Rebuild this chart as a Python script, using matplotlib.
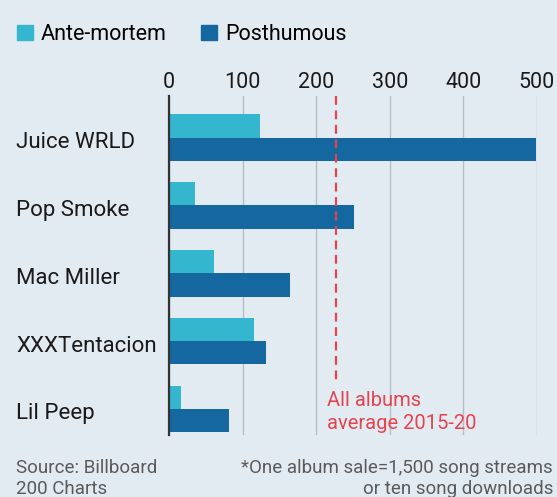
import matplotlib
matplotlib.use("Agg")
import matplotlib.pyplot as plt
from matplotlib.patches import Patch
from matplotlib.transforms import blended_transform_factory

# values (album-equivalent sales, '000)
artists = ["Juice WRLD", "Pop Smoke", "Mac Miller", "XXXTentacion", "Lil Peep"]
ante_mortem = [123, 35, 61, 115, 16]
posthumous = [498, 251, 164, 132, 81]
avg_all_albums = 227
xticks = [0, 100, 200, 300, 400, 500]

BG = "#e3ebf2"
ANTE = "#34b6cf"
POST = "#15679f"
RED = "#e5444f"

plt.rcParams["font.family"] = ["Roboto", "DejaVu Sans"]

W, H = 557, 497
fig = plt.figure(figsize=(W / 100, H / 100), dpi=100, facecolor=BG)
ax = fig.add_axes([169 / W, 1 - 435 / H, (537 - 169) / W, (435 - 96) / H])
ax.set_facecolor(BG)

h = 0.345
ypos = list(range(len(artists)))
ax.barh([y - h / 2 for y in ypos], ante_mortem, height=h, color=ANTE, zorder=3)
ax.barh([y + h / 2 for y in ypos], posthumous, height=h, color=POST, zorder=3)

ax.set_xlim(0, 500)
ax.set_ylim(4.385, -0.615)

ax.xaxis.tick_top()
ax.set_xticks(xticks)
ax.set_xticklabels([str(t) for t in xticks], fontsize=15.5, color="#1a1a1a")
ax.tick_params(axis="x", length=0, pad=2)
ax.set_yticks([])
ax.grid(axis="x", color="#b5bec7", linewidth=1, zorder=0)

for s in ["top", "right", "bottom"]:
    ax.spines[s].set_visible(False)
ax.spines["left"].set_color("#333333")
ax.spines["left"].set_linewidth(1.6)
ax.spines["left"].set_zorder(4)

# dashed average line, stops above the label
ax.plot([avg_all_albums, avg_all_albums], [-0.615, 3.57], color=RED,
        linestyle=(0, (4, 2.5)), linewidth=1.6, zorder=4, clip_on=False)
ax.text(avg_all_albums - 12, 3.74, "All albums\naverage 2015-20", color=RED,
        fontsize=14.5, ha="left", va="top", linespacing=1.25)

# artist labels
label_tr = blended_transform_factory(fig.transFigure, ax.transData)
for y, name in zip(ypos, artists):
    ax.text(16 / W, y + 0.155, name, transform=label_tr, fontsize=16,
            color="#1a1a1a", ha="left", va="baseline")

# legend
handles = [Patch(color=ANTE, label="Ante-mortem"), Patch(color=POST, label="Posthumous")]
fig.legend(handles=handles, loc="upper left", bbox_to_anchor=(0.031, 1 - 24 / H),
           ncol=2, frameon=False, fontsize=15.5, handlelength=0.75, handleheight=0.75,
           handletextpad=0.35, columnspacing=1.6, borderaxespad=0, borderpad=0)

fig.text(16 / W, 1 - 459 / H, "Source: Billboard\n200 Charts", fontsize=13.5,
         color="#5a5a5a", ha="left", va="top", linespacing=1.25)
fig.text(553 / W, 1 - 459 / H, "*One album sale=1,500 song streams\nor ten song downloads",
         fontsize=13.5, color="#5a5a5a", ha="right", va="top", linespacing=1.25,
         multialignment="right")

fig.savefig("out.png", dpi=100, facecolor=BG)
